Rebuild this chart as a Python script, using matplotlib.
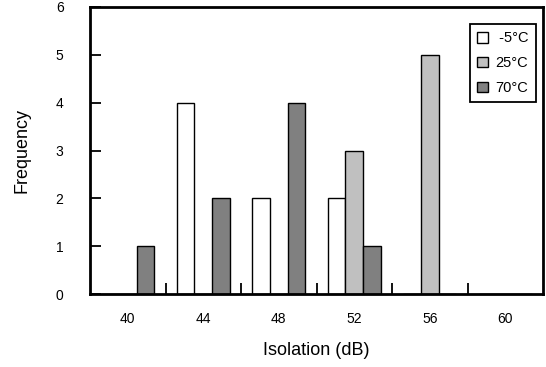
import matplotlib
matplotlib.use("Agg")
import matplotlib.pyplot as plt
import numpy as np
from matplotlib.ticker import FixedLocator

plt.rcParams['font.family'] = ['Liberation Sans', 'DejaVu Sans']

categories = ["40", "44", "48", "52", "56", "60"]
series_names = ["-5°C", "25°C", "70°C"]
freq_m5 = [0, 4, 2, 2, 0, 0]
freq_25 = [0, 0, 0, 3, 5, 0]
freq_70 = [1, 2, 4, 1, 0, 0]
yticks = [0, 1, 2, 3, 4, 5, 6]

colors = ["#ffffff", "#c0c0c0", "#808080"]

fig = plt.figure(figsize=(5.46, 3.67), dpi=100)
ax = fig.add_axes([90/546, 1-294/367, 453/546, 287/367])

x = np.arange(len(categories))
w = 0.233
series = [freq_m5, freq_25, freq_70]
handles = []
for i, (vals, c, name) in enumerate(zip(series, colors, series_names)):
    h = ax.bar(x + (i-1)*w, vals, width=w, color=c, edgecolor='black',
               linewidth=1.0, label=name)
    handles.append(h)

ax.set_xlim(-0.5, len(categories)-0.5)
ax.set_ylim(0, 6)
ax.set_yticks(yticks)
ax.set_xticks(x)
ax.set_xticklabels(categories)
ax.xaxis.set_minor_locator(FixedLocator(np.arange(0.5, len(categories)-0.5, 1)))

for s in ax.spines.values():
    s.set_linewidth(2.0)

ax.tick_params(axis='x', which='major', length=0, pad=13, labelsize=10)
ax.tick_params(axis='x', which='minor', length=8, width=1.3, direction='in')
ax.tick_params(axis='y', which='major', length=8, width=1.3, direction='in',
               pad=19, labelsize=10)

ax.set_xlabel("Isolation (dB)", fontsize=13)
ax.set_ylabel("Frequency", fontsize=13)
ax.xaxis.set_label_coords(0.5, -0.167)
ax.xaxis.label.set_va('top')
ax.yaxis.set_label_coords(-0.150, 0.5)
ax.yaxis.label.set_va('center')

labels = [" " + series_names[0], series_names[1], series_names[2]]
leg = ax.legend(handles, labels, loc='upper right',
                bbox_to_anchor=((536-90)/453, (294-24)/287),
                borderaxespad=0, fancybox=False, framealpha=1,
                edgecolor='black', fontsize=10.5, handlelength=0.75,
                handleheight=0.75, handletextpad=0.5, labelspacing=0.75,
                borderpad=0.5)
leg.get_frame().set_linewidth(1.3)

fig.savefig("out.png", dpi=100)
